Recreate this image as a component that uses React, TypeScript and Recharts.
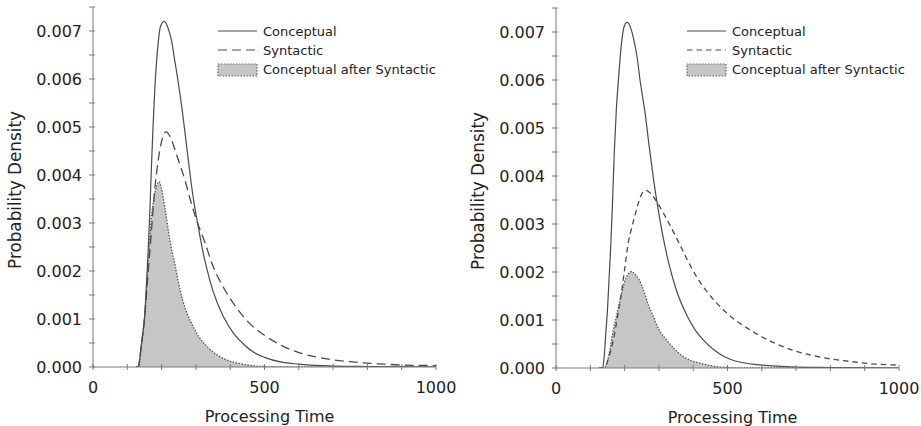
import React from 'react';
import { ComposedChart, Line, Area, XAxis, YAxis } from 'recharts';

const seriesNames = ['Conceptual', 'Syntactic', 'Conceptual after Syntactic'];
const xAxisTitle = 'Processing Time';
const yAxisTitle = 'Probability Density';

const xTicks = [0, 100, 200, 300, 400, 500, 600, 700, 800, 900, 1000];
const xTickLabels = [0, 500, 1000];
const yTicks = [0, 0.0005, 0.001, 0.0015, 0.002, 0.0025, 0.003, 0.0035, 0.004, 0.0045, 0.005, 0.0055, 0.006, 0.0065, 0.007, 0.0075];
const yTickLabels = [0, 0.001, 0.002, 0.003, 0.004, 0.005, 0.006, 0.007];

// Left panel
const leftConceptual: [number, number][] = [
  [125, 0], [130, 0], [135, 0.0001], [140, 0.0004], [145, 0.0007], [150, 0.001], [155, 0.0016],
  [160, 0.0023], [165, 0.0031], [170, 0.0041], [175, 0.005], [181, 0.0059], [188, 0.0066],
  [197, 0.0071], [208, 0.0072], [218, 0.00708], [229, 0.0068], [238, 0.0064], [247, 0.006],
  [261, 0.0053], [273, 0.0046], [285, 0.0039], [295, 0.0034], [305, 0.003], [315, 0.0026],
  [330, 0.0021], [350, 0.00158], [380, 0.00105], [410, 0.0007], [440, 0.00047],
  [470, 0.0003], [500, 0.0002], [550, 0.0001], [600, 0.00006], [700, 0.00002], [800, 0.00001], [1000, 0],
];
const leftSyntactic: [number, number][] = [
  [125, 0], [132, 0], [140, 0.0004], [150, 0.001], [160, 0.0019], [170, 0.0028], [180, 0.0037],
  [190, 0.0043], [200, 0.0047], [213, 0.0049], [225, 0.0048], [240, 0.0045], [254, 0.0042],
  [268, 0.0039], [283, 0.0035], [300, 0.0031], [325, 0.00262], [350, 0.0021], [385, 0.0016], [420, 0.00122],
  [455, 0.00092], [500, 0.00066], [555, 0.00043], [600, 0.0003], [650, 0.00021], [700, 0.00015],
  [750, 0.00011], [800, 0.00008], [850, 0.00006], [900, 0.00004], [1000, 0.00003],
];
const leftAfter: [number, number][] = [
  [128, 0], [133, 0], [140, 0.0004], [150, 0.001], [160, 0.0021], [170, 0.0031], [180, 0.0036],
  [187, 0.0038], [193, 0.00386], [200, 0.0037], [210, 0.0033], [224, 0.00265], [240, 0.0021],
  [254, 0.0016], [270, 0.0012], [288, 0.0009], [310, 0.00062], [336, 0.0004], [360, 0.00026],
  [385, 0.00016], [410, 0.0001], [443, 0.00005], [500, 0.00001], [600, 0], [1000, 0],
];

// Right panel
const rightConceptual: [number, number][] = [
  [125, 0], [136, 0], [140, 0.0002], [145, 0.0007], [150, 0.0012], [155, 0.0019], [160, 0.0026],
  [165, 0.0035], [170, 0.0045], [176, 0.0054], [182, 0.006], [190, 0.0067], [198, 0.0071],
  [208, 0.0072], [218, 0.00708], [228, 0.0068], [236, 0.0065], [245, 0.006], [260, 0.0053],
  [272, 0.0046], [285, 0.0039], [298, 0.0033], [313, 0.0027], [330, 0.00215], [352, 0.0016],
  [380, 0.00112], [405, 0.0008], [430, 0.00058], [460, 0.00038], [490, 0.00024], [520, 0.00015],
  [600, 0.00006], [700, 0.00002], [800, 0.00001], [1000, 0],
];
const rightSyntactic: [number, number][] = [
  [125, 0], [140, 0], [155, 0.00025], [167, 0.00058], [180, 0.0011], [192, 0.00163], [200, 0.00205],
  [211, 0.00262], [220, 0.0029], [231, 0.0032], [248, 0.0036], [262, 0.0037], [278, 0.00362],
  [295, 0.00345], [323, 0.0031], [352, 0.0027], [381, 0.00228], [410, 0.0019], [440, 0.00159],
  [470, 0.00134], [500, 0.00113], [560, 0.00082], [600, 0.00065], [660, 0.00045], [700, 0.00035],
  [756, 0.00025], [800, 0.00019], [853, 0.00014], [900, 0.0001], [1000, 0.00006],
];
const rightAfter: [number, number][] = [
  [135, 0], [143, 0.00002], [155, 0.0003], [167, 0.00079], [177, 0.0011], [187, 0.00142],
  [200, 0.0018], [210, 0.00195], [220, 0.00201], [230, 0.00196], [243, 0.00183], [255, 0.00163],
  [270, 0.0013], [284, 0.00107], [300, 0.0008], [323, 0.00058], [345, 0.0004], [371, 0.00024],
  [395, 0.00015], [420, 0.0001], [450, 0.00005], [480, 0.00002], [550, 0], [1000, 0],
];

const toRows = (pts: [number, number][]) => pts.map(([x, y]) => ({ x, y }));

const FONT = 'DejaVu Sans, sans-serif';
const AXIS = '#7a7a7a';
const TEXT = '#222';
const LINE = '#4a4a4a';
const FILL = '#c6c6c6';

const isLabelled = (v: number, list: number[]) => list.some((l) => Math.abs(l - v) < 1e-9);

const YTick = (props: any) => {
  const { x, y, payload } = props;
  const v = payload.value;
  return (
    <g>
      <line x1={x - 4} x2={x + 2} y1={y} y2={y} stroke={AXIS} strokeWidth={1} />
      {isLabelled(v, yTickLabels) && (
        <text x={x - 11} y={y} dy="0.36em" textAnchor="end" fontSize={16} fontFamily={FONT} fill={TEXT}>
          {v.toFixed(3)}
        </text>
      )}
    </g>
  );
};

const XTick = (props: any) => {
  const { x, y, payload } = props;
  const v = payload.value;
  return (
    <g>
      <line x1={x} x2={x} y1={y - 3} y2={y + 3} stroke={AXIS} strokeWidth={1} />
      {isLabelled(v, xTickLabels) && (
        <text x={x} y={y + 20} dy="0.36em" textAnchor="middle" fontSize={16} fontFamily={FONT} fill={TEXT}>
          {String(v)}
        </text>
      )}
    </g>
  );
};

const LegendBox = ({ lineX, textX, dash }: { lineX: number; textX: number; dash: string }) => (
  <svg width={460} height={85} style={{ position: 'absolute', left: 0, top: 0, overflow: 'visible' }}>
    <line x1={lineX} x2={lineX + 39} y1={31} y2={31} stroke={LINE} strokeWidth={1.2} />
    <line x1={lineX} x2={lineX + 39} y1={50} y2={50} stroke={LINE} strokeWidth={1.2} strokeDasharray={dash} />
    <rect x={lineX} y={64} width={39} height={12} fill={FILL} stroke="#666" strokeWidth={1.2} strokeDasharray="1.5 1.5" />
    {seriesNames.map((n, i) => (
      <text key={n} x={textX} y={31 + i * 19} dy="0.36em" fontSize={13} fontFamily={FONT} fill={TEXT}>
        {n}
      </text>
    ))}
  </svg>
);

type PanelProps = {
  left: number;
  width: number;
  yAxisWidth: number;
  marginTop: number;
  marginRight: number;
  xAxisHeight: number;
  conceptual: [number, number][];
  syntactic: [number, number][];
  after: [number, number][];
  dash: string;
  legendLineX: number;
  legendTextX: number;
  yTitleX: number;
};

const Panel = (p: PanelProps) => (
  <div style={{ position: 'absolute', left: p.left, top: 0, width: p.width, height: 426 }}>
    <ComposedChart
      width={p.width}
      height={426}
      margin={{ top: p.marginTop, right: p.marginRight, bottom: 0, left: 0 }}
      style={{ fontFamily: FONT }}
    >
      <XAxis
        type="number"
        dataKey="x"
        domain={[0, 1000]}
        ticks={xTicks}
        interval={0}
        height={p.xAxisHeight}
        tickSize={0}
        tickMargin={0}
        tickLine={false}
        axisLine={{ stroke: AXIS, strokeWidth: 1 }}
        tick={<XTick />}
        allowDataOverflow
        label={{
          content: (lp: any) => {
            const vb = lp.viewBox || { x: 0, y: 0, width: 0, height: 0 };
            return (
              <text x={vb.x + vb.width / 2 + 5} y={vb.y + 49} dy="0.36em" textAnchor="middle" fontSize={16} fontFamily={FONT} fill={TEXT}>
                {xAxisTitle}
              </text>
            );
          },
        }}
      />
      <YAxis
        type="number"
        domain={[0, 0.0075]}
        ticks={yTicks}
        interval={0}
        width={p.yAxisWidth}
        tickSize={0}
        tickMargin={0}
        tickLine={false}
        axisLine={{ stroke: AXIS, strokeWidth: 1 }}
        tick={<YTick />}
        allowDataOverflow
        label={{
          content: (lp: any) => {
            const vb = lp.viewBox || { x: 0, y: 0, width: 0, height: 0 };
            const cx = vb.x + p.yTitleX;
            const cy = vb.y + vb.height / 2 + 3;
            return (
              <text x={cx} y={cy} dy="0.36em" textAnchor="middle" transform={`rotate(-90 ${cx} ${cy})`} fontSize={16.8} fontFamily={FONT} fill={TEXT}>
                {yAxisTitle}
              </text>
            );
          },
        }}
      />
      <Area
        data={toRows(p.after)}
        dataKey="y"
        name={seriesNames[2]}
        type="monotone"
        fill={FILL}
        fillOpacity={1}
        stroke="#555"
        strokeWidth={1.3}
        strokeDasharray="1.5 1.5"
        isAnimationActive={false}
        dot={false}
        activeDot={false}
      />
      <Line
        data={toRows(p.syntactic)}
        dataKey="y"
        name={seriesNames[1]}
        type="monotone"
        stroke={LINE}
        strokeWidth={1.3}
        strokeDasharray={p.dash}
        dot={false}
        activeDot={false}
        isAnimationActive={false}
      />
      <Line
        data={toRows(p.conceptual)}
        dataKey="y"
        name={seriesNames[0]}
        type="monotone"
        stroke={LINE}
        strokeWidth={1.2}
        dot={false}
        activeDot={false}
        isAnimationActive={false}
      />
    </ComposedChart>
    <LegendBox lineX={p.legendLineX} textX={p.legendTextX} dash={p.dash} />
  </div>
);

export default function App() {
  return (
    <div style={{ position: 'absolute', left: 0, top: 0, width: 921, height: 426, background: '#fff' }}>
      <Panel
        left={0}
        width={460}
        yAxisWidth={93}
        marginTop={7}
        marginRight={24}
        xAxisHeight={59}
        conceptual={leftConceptual}
        syntactic={leftSyntactic}
        after={leftAfter}
        dash="9 5"
        legendLineX={218}
        legendTextX={263}
        yTitleX={15}
      />
      <Panel
        left={460}
        width={461}
        yAxisWidth={96}
        marginTop={8}
        marginRight={22}
        xAxisHeight={58}
        conceptual={rightConceptual}
        syntactic={rightSyntactic}
        after={rightAfter}
        dash="5.5 4"
        legendLineX={227}
        legendTextX={272}
        yTitleX={18}
      />
    </div>
  );
}
